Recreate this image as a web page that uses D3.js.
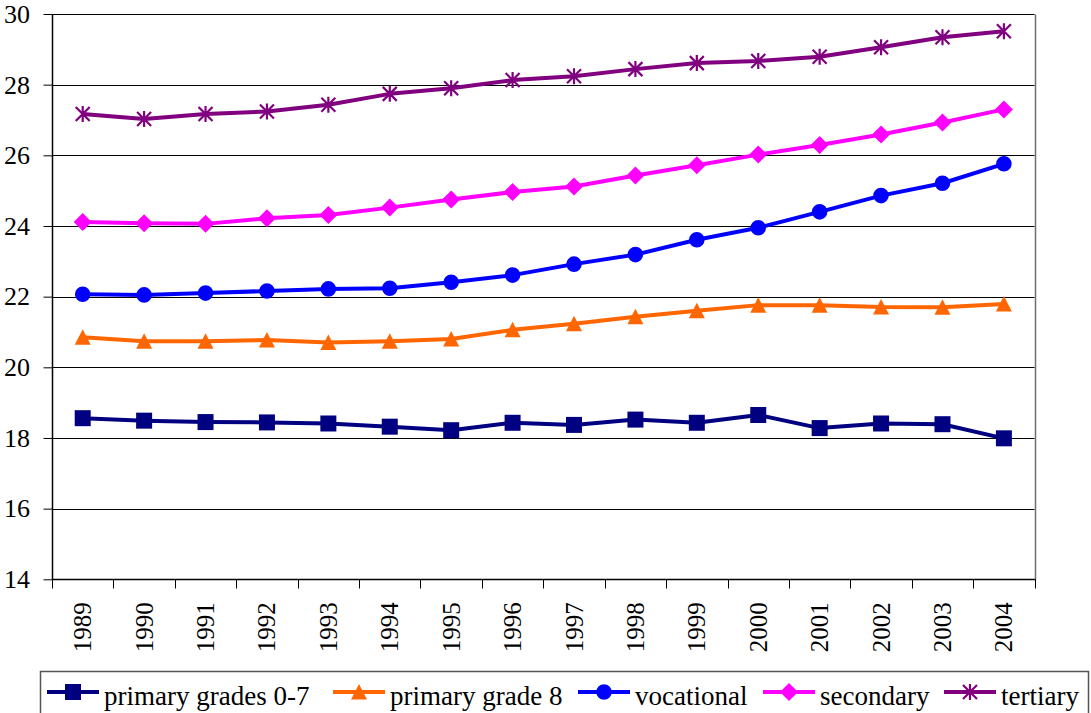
<!DOCTYPE html>
<html>
<head>
<meta charset="utf-8">
<script src="https://cdn.jsdelivr.net/npm/d3@7"></script>
</head>
<body style="margin:0">
<svg id="chart" width="1091" height="713" style="display:block"></svg>
<script>
// Years on the category axis
const years = ["1989","1990","1991","1992","1993","1994","1995","1996",
               "1997","1998","1999","2000","2001","2002","2003","2004"];

// Series values by education level
const primary07 = [18.56,18.49,18.45,18.44,18.41,18.32,18.22,18.43,18.37,18.52,18.43,18.65,18.28,18.41,18.39,17.99];
const primary8  = [20.85,20.74,20.74,20.77,20.70,20.74,20.80,21.06,21.23,21.43,21.60,21.76,21.76,21.71,21.70,21.79];
const vocational= [22.07,22.05,22.10,22.16,22.22,22.24,22.41,22.61,22.92,23.19,23.61,23.95,24.40,24.86,25.21,25.76];
const secondary = [24.11,24.08,24.06,24.22,24.31,24.52,24.75,24.96,25.12,25.43,25.72,26.02,26.29,26.59,26.93,27.30];
const tertiary  = [27.17,27.03,27.17,27.24,27.43,27.74,27.90,28.13,28.24,28.44,28.61,28.67,28.79,29.06,29.34,29.51];

const seriesNames = ["primary grades 0-7","primary grade 8","vocational","secondary","tertiary"];
const yTicks = [14,16,18,20,22,24,26,28,30];

const series = [
  {name: seriesNames[0], values: primary07,  color: "#000080", marker: "square"},
  {name: seriesNames[1], values: primary8,   color: "#ff6600", marker: "triangle"},
  {name: seriesNames[2], values: vocational, color: "#0000ff", marker: "circle"},
  {name: seriesNames[3], values: secondary,  color: "#ff00ff", marker: "diamond"},
  {name: seriesNames[4], values: tertiary,   color: "#800080", marker: "star"}
];

const FONT = "Liberation Serif";

const svg = d3.select("#chart");
const plot = {left: 52, right: 1034.6, top: 14, bottom: 579.3};

const x = d3.scaleBand().domain(years).range([plot.left, plot.right]);
const y = d3.scaleLinear().domain([14, 30]).range([plot.bottom, plot.top]);
const cx = d => x(d) + x.bandwidth() / 2;

// Horizontal gridlines
svg.append("g")
  .selectAll("line")
  .data(yTicks.filter(t => t > 14))
  .join("line")
  .attr("x1", plot.left).attr("x2", plot.right)
  .attr("y1", d => Math.round(y(d)) + 0.5).attr("y2", d => Math.round(y(d)) + 0.5)
  .attr("stroke", "#000").attr("stroke-width", 1);

// Right border of the plot area
svg.append("line")
  .attr("x1", Math.round(plot.right) + 0.5).attr("x2", Math.round(plot.right) + 0.5)
  .attr("y1", Math.round(plot.top) + 0.5).attr("y2", Math.round(plot.bottom) + 0.5)
  .attr("stroke", "#6e6e6e").attr("stroke-width", 1.5);

// Value axis: tick marks from the axis generator, labels as plain text
const yAxis = svg.append("g")
  .attr("transform", `translate(${Math.round(plot.left) + 0.5},0)`)
  .call(d3.axisLeft(y).tickValues(yTicks).tickSize(9).tickFormat(""));
yAxis.select(".domain").attr("stroke", "#000").attr("stroke-width", 1.5)
  .attr("d", `M0,${plot.top}V${plot.bottom}`);
yAxis.selectAll(".tick line").attr("stroke", "#000").attr("stroke-width", 1);

svg.append("g")
  .selectAll("text")
  .data(yTicks)
  .join("text")
  .attr("x", plot.left - 22)
  .attr("y", d => y(d))
  .attr("dy", "0.34em")
  .attr("text-anchor", "end")
  .attr("font-size", 26)
  .attr("font-family", FONT)
  .text(d => d);

// Category axis: baseline, tick marks at band edges, rotated year labels
const xBase = Math.round(plot.bottom) + 0.5;
svg.append("line")
  .attr("x1", plot.left).attr("x2", plot.right + 1)
  .attr("y1", xBase).attr("y2", xBase)
  .attr("stroke", "#000").attr("stroke-width", 1.5);

const edges = years.map(d => x(d)).concat([x.range()[1]]);
svg.append("g")
  .selectAll("line")
  .data(edges)
  .join("line")
  .attr("x1", d => Math.round(d) + 0.5).attr("x2", d => Math.round(d) + 0.5)
  .attr("y1", xBase).attr("y2", xBase + 9)
  .attr("stroke", "#000").attr("stroke-width", 1);

svg.append("g")
  .selectAll("text")
  .data(years)
  .join("text")
  .attr("transform", d => `translate(${cx(d)},${plot.bottom + 23}) rotate(-90)`)
  .attr("text-anchor", "end")
  .attr("dy", "0.34em")
  .attr("font-size", 25)
  .attr("font-family", FONT)
  .text(d => d);

// Marker shapes
function markerPath(type) {
  switch (type) {
    case "square":   return "M-8,-8H8V8H-8Z";
    case "triangle": return "M0,-8L8,7.5H-8Z";
    case "circle":   return d3.symbol(d3.symbolCircle, 190)();
    case "diamond":  return "M0,-9L9,0L0,9L-9,0Z";
    case "star":     return "M0,-8V8M-7,-7L7,7M7,-7L-7,7";
  }
}

function drawMarker(sel, s) {
  if (s.marker === "star") {
    sel.append("path").attr("d", markerPath("star"))
      .attr("fill", "none").attr("stroke", s.color).attr("stroke-width", 2.2);
  } else {
    sel.append("path").attr("d", markerPath(s.marker)).attr("fill", s.color);
  }
}

// Lines and markers
const line = d3.line().x((d, i) => cx(years[i])).y(d => y(d));
series.forEach(s => {
  const g = svg.append("g");
  g.append("path")
    .attr("d", line(s.values))
    .attr("fill", "none")
    .attr("stroke", s.color)
    .attr("stroke-width", 4)
    .attr("stroke-linejoin", "round");
  g.selectAll("g.pt")
    .data(s.values)
    .join("g")
    .attr("class", "pt")
    .attr("transform", (d, i) => `translate(${cx(years[i])},${y(d)})`)
    .each(function () { drawMarker(d3.select(this), s); });
});

// Legend
const legendBox = {x: 40.5, y: 671.5, w: 1048, h: 60};
svg.append("rect")
  .attr("x", legendBox.x).attr("y", legendBox.y)
  .attr("width", legendBox.w).attr("height", legendBox.h)
  .attr("fill", "#fff").attr("stroke", "#555").attr("stroke-width", 1.5);

const legendStarts = [47, 333, 578, 763, 944];
const legendY = 692;
series.forEach((s, i) => {
  const g = svg.append("g").attr("transform", `translate(${legendStarts[i]},${legendY})`);
  g.append("line").attr("x1", 0).attr("x2", 52).attr("y1", 0).attr("y2", 0)
    .attr("stroke", s.color).attr("stroke-width", 4);
  const m = g.append("g").attr("transform", "translate(26,0)");
  drawMarker(m, s);
  g.append("text")
    .attr("x", 57).attr("y", 13)
    .attr("font-size", 27)
    .attr("font-family", FONT)
    .text(s.name);
});
</script>
</body>
</html>
